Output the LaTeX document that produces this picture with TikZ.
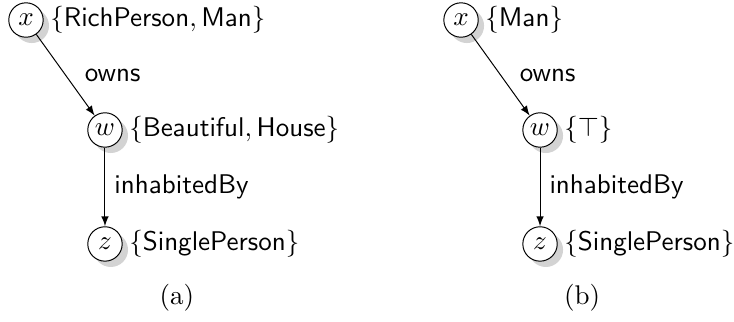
\documentclass[tikz,border=0pt,11pt]{standalone}
\usepackage{amsfonts}
\usepackage{amssymb}
\usepackage{amsmath}
\usetikzlibrary{positioning,shadows}

\tikzset{
  ind/.style={circle,draw,fill=white,drop shadow={opacity=0.35},inner sep=0pt,minimum size=0.49cm},
  concepts/.style={inner sep=2.5pt},
  role/.style={font=\sffamily}
}

\begin{document}
\begin{tikzpicture}
\useasboundingbox (0,0) rectangle (10.452,4.585);

% (a)
\node[ind] (xa) at (0.370,4.300) {$x$};
\node[ind] (wa) at (1.495,2.734) {$w$};
\node[ind] (za) at (1.495,1.111) {$z$};
\node[concepts,right=0pt of xa] (xalab) {$\{\mathsf{RichPerson}, \mathsf{Man}\}$};
\node[concepts,right=0pt of wa] (walab) {$\{\mathsf{Beautiful}, \mathsf{House}\}$};
\node[concepts,right=0pt of za] (zalab) {$\{\mathsf{SinglePerson}\}$};
\draw[-latex] (xa) -- (wa) node[role,midway,right=4pt]{owns};
\draw[-latex] (wa) -- (za) node[role,midway,right]{inhabitedBy};
\node (capa) at (2.520,0.342) {(a)};

% (b)
\node[ind] (xb) at (6.565,4.300) {$x$};
\node[ind] (wb) at (7.690,2.734) {$w$};
\node[ind] (zb) at (7.690,1.111) {$z$};
\node[concepts,right=0pt of xb] (xblab) {$\{\mathsf{Man}\}$};
\node[concepts,right=0pt of wb] (wblab) {$\{\top\}$};
\node[concepts,right=0pt of zb] (zblab) {$\{\mathsf{SinglePerson}\}$};
\draw[-latex] (xb) -- (wb) node[role,midway,right=4pt]{owns};
\draw[-latex] (wb) -- (zb) node[role,midway,right]{inhabitedBy};
\node (capb) at (8.288,0.342) {(b)};
\end{tikzpicture}
\end{document}
